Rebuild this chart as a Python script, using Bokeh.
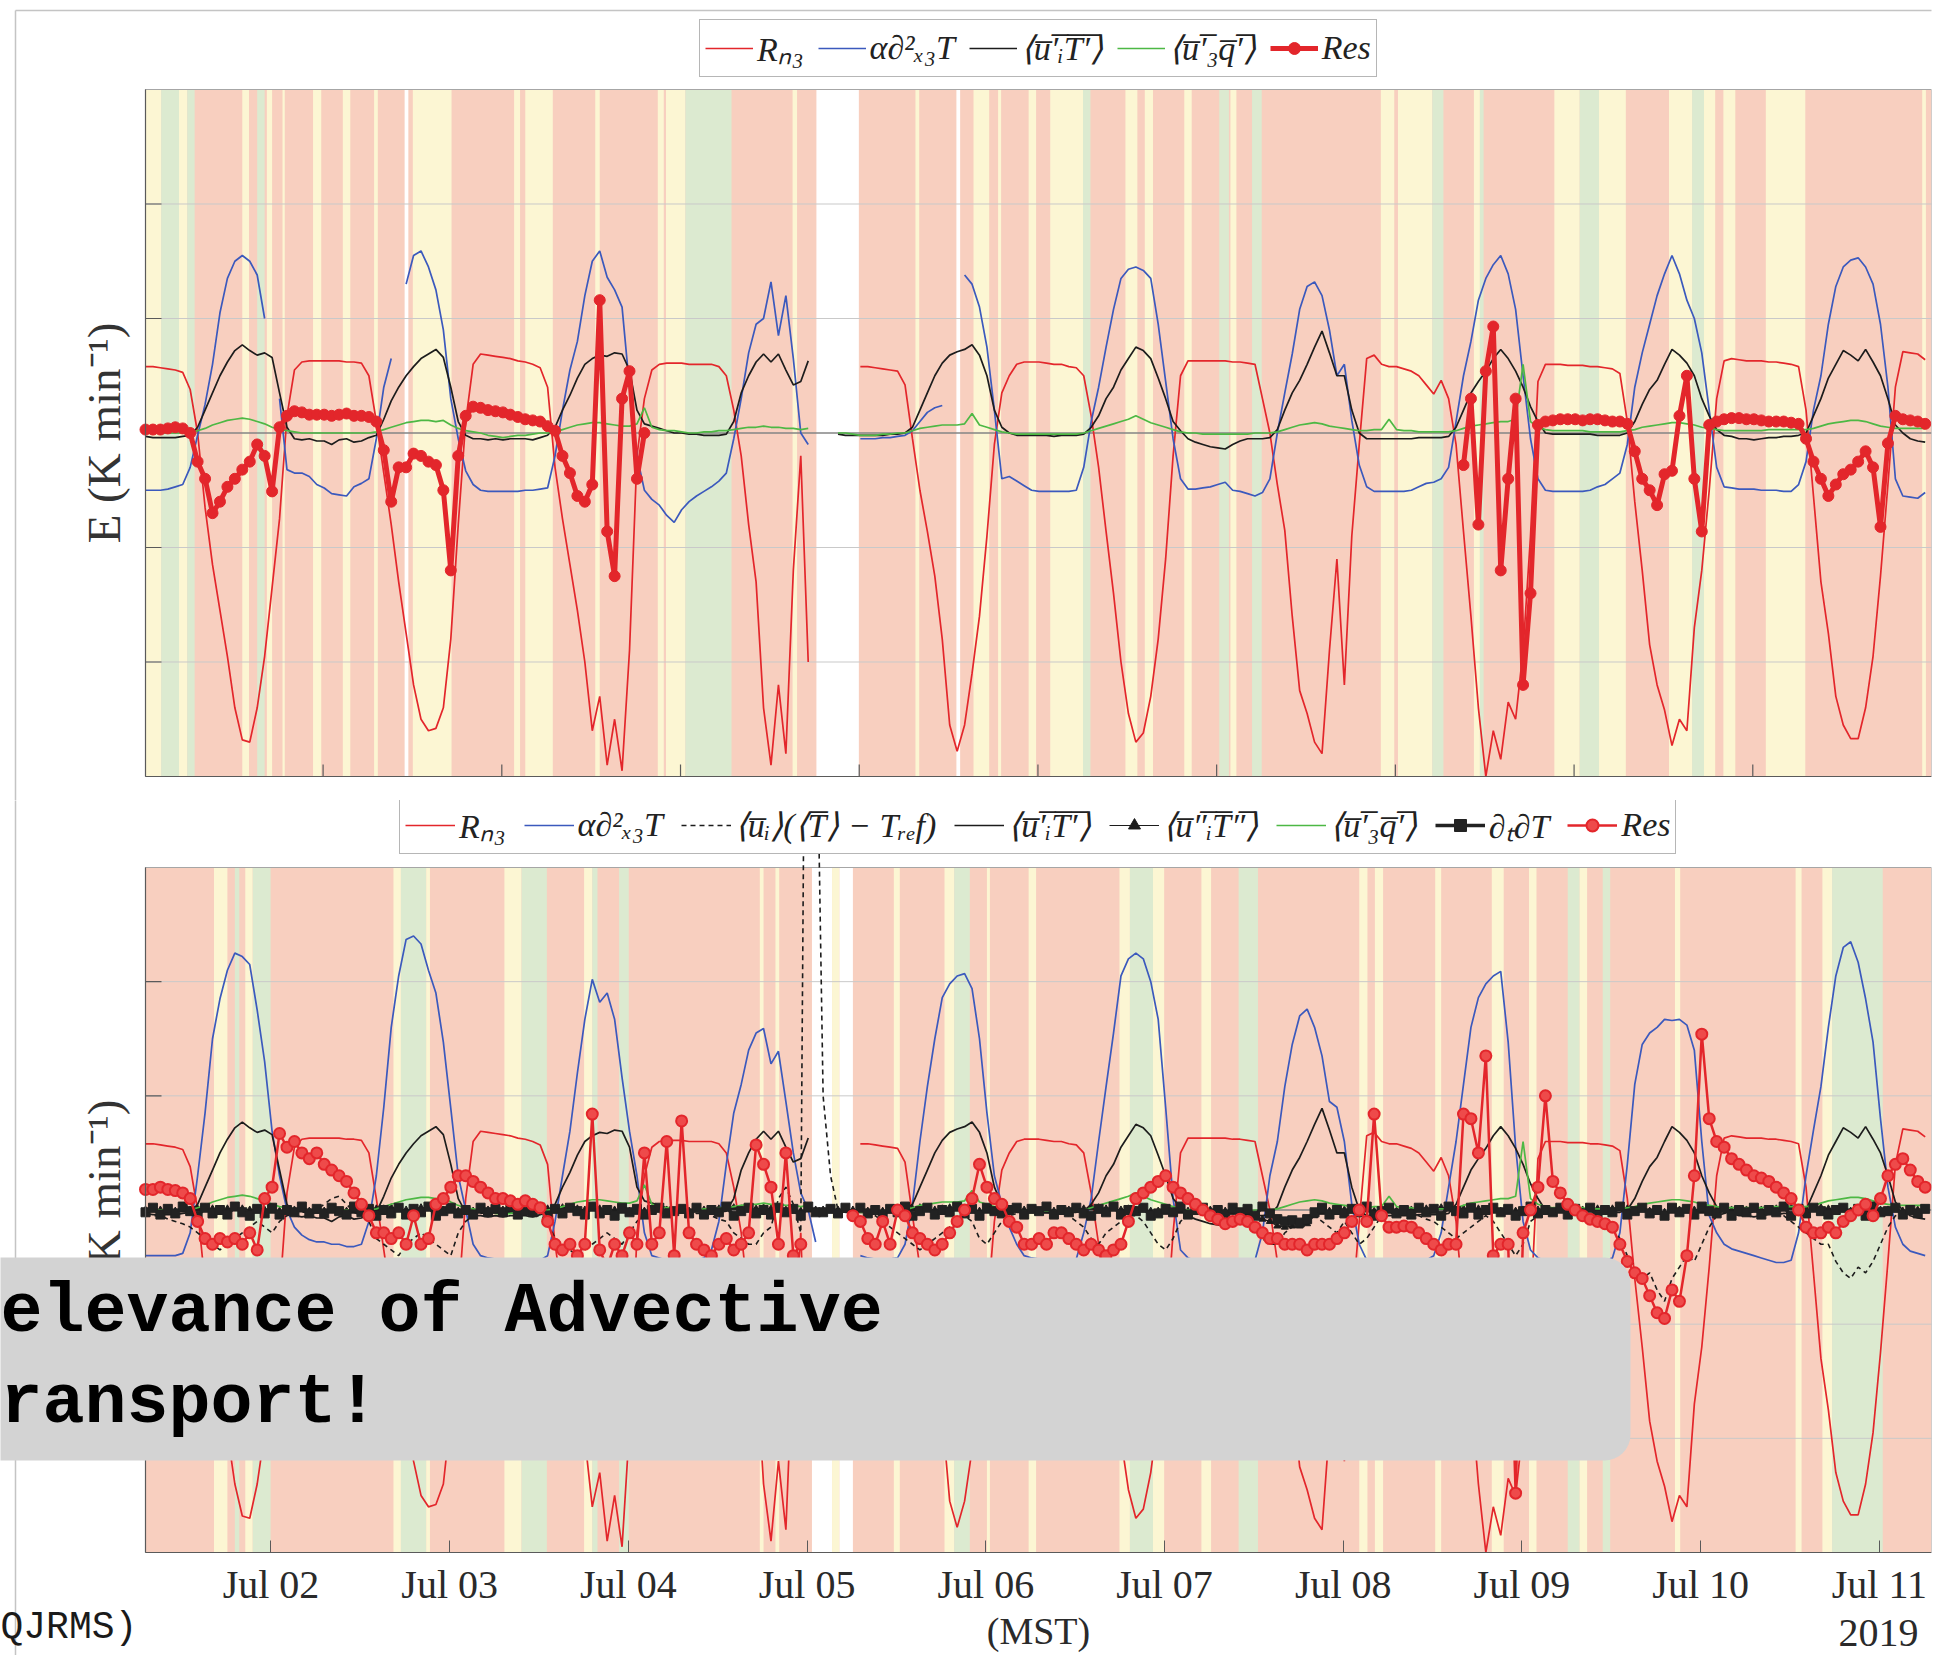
import numpy as np
from datetime import datetime, timedelta
from bokeh.plotting import figure
from bokeh.models import (Range1d, FixedTicker, DatetimeTickFormatter, Legend, LegendItem,
                          BoxAnnotation, Label)
from bokeh.layouts import column
from bokeh.embed import file_html
from bokeh.resources import INLINE


def series(*days):
    return np.array([float(v) for v in " ".join(days).split()])

# ---------------- data: hourly samples from 2019-07-01 07:09 (MST) ----------------
RN3 = series(
    ".58 .58 .57 .56 .55 .53 .38 .0 -.65 -1.15 -1.55 -1.95 -2.4 -2.68 -2.7 -2.4 -1.95 -1.35 -.75 .15 .55 .62 .63 .63",
    ".63 .63 .63 .62 .62 .61 .5 .1 -.35 -.8 -1.3 -1.75 -2.2 -2.5 -2.6 -2.58 -2.4 -1.8 -.8 .1 .6 .69 .68 .67",
    ".66 .65 .63 .62 .6 .57 .4 -.3 -.75 -1.15 -1.55 -2.0 -2.6 -2.3 -2.9 -2.5 -2.95 -1.9 -.2 .3 .55 .6 .61 .61",
    ".61 .6 .6 .6 .6 .58 .5 .2 -.2 -.8 -1.3 -2.4 -2.9 -2.2 -2.8 -1.2 -.2 -2.0 nan nan nan nan nan nan",
    ".58 .58 .57 .56 .55 .54 .42 -.05 -.5 -.86 -1.25 -1.8 -2.55 -2.78 -2.55 -2.1 -1.6 -.9 -.1 .35 .5 .6 .62 .62",
    ".62 .61 .6 .6 .58 .57 .5 .15 -.3 -.86 -1.4 -2.0 -2.45 -2.7 -2.62 -2.3 -1.8 -1.1 -.2 .5 .63 .63 .63 .63",
    ".63 .63 .62 .62 .61 .6 .3 .0 -.45 -.85 -1.6 -2.25 -2.45 -2.7 -2.8 -1.9 -1.1 -2.2 -.9 -.1 .65 .68 .6 .58",
    ".58 .56 .54 .5 .42 .34 .46 .3 -.1 -.86 -1.6 -2.4 -3.0 -2.6 -2.85 -2.35 -2.5 -1.9 -.9 .45 .6 .6 .6 .59",
    ".59 .59 .58 .58 .57 .56 .52 .1 -.6 -1.2 -1.85 -2.2 -2.42 -2.73 -2.5 -2.6 -1.7 -1.2 -.5 .3 .63 .65 .64 .63",
    ".63 .63 .62 .62 .61 .6 .58 .2 -.55 -1.3 -1.75 -2.3 -2.55 -2.67 -2.67 -2.4 -1.95 -1.25 -.45 .4 .71 .7 .69 .64")

UT = series(
    "-.03 -.04 -.04 -.04 -.04 -.03 -.02 .05 .2 .35 .5 .62 .72 .77 .72 .68 .7 .66 .35 .05 -.05 -.06 -.05 -.07",
    "-.07 -.1 -.06 -.05 -.08 -.07 -.04 -.02 .12 .28 .4 .5 .58 .65 .69 .73 .66 .4 .1 -.02 -.05 -.05 -.06 -.05",
    "-.06 -.05 -.05 -.05 -.06 -.04 -.02 .05 .2 .33 .48 .6 .65 .68 .67 .7 .69 .55 .2 .08 .06 .04 .02 .0",
    ".0 -.01 -.01 -.02 -.02 -.02 -.01 .1 .35 .5 .62 .69 .62 .69 .55 .42 .45 .63 nan nan nan -.01 -.02 -.02",
    "-.02 -.02 -.02 -.02 -.01 -.01 .0 .05 .2 .35 .5 .61 .68 .71 .73 .77 .68 .5 .2 .05 .0 -.02 -.02 -.02",
    "-.02 -.02 -.03 -.02 -.02 -.02 -.01 .05 .15 .3 .4 .55 .65 .75 .72 .65 .48 .3 .1 .02 -.05 -.08 -.1 -.12",
    "-.13 -.14 -.1 -.07 -.05 -.05 -.05 -.04 .03 .2 .35 .46 .6 .75 .89 .7 .5 .5 .2 .0 -.05 -.05 -.05 -.05",
    "-.05 -.05 -.05 -.04 -.04 -.04 -.04 -.03 .05 .2 .35 .45 .54 .65 .73 .65 .54 .4 .23 .1 .0 -.01 -.01 -.01",
    "-.01 -.01 -.01 -.02 -.02 -.02 -.02 .0 .1 .25 .38 .46 .6 .73 .68 .61 .5 .3 .15 .03 -.02 -.03 -.05 -.05",
    "-.06 -.05 -.04 -.04 -.03 -.03 -.02 .0 .15 .3 .48 .6 .72 .68 .63 .73 .62 .5 .3 .07 .0 -.05 -.07 -.08")

UQ = series(
    ".0 .0 .0 .0 .0 .0 .0 .02 .04 .07 .09 .11 .12 .13 .12 .1 .08 .05 .03 .02 .01 .0 .0 .0",
    ".0 .0 .0 .0 .0 .0 .0 .01 .03 .05 .07 .09 .1 .11 .11 .1 .11 .07 .04 .02 .01 .0 -.02 -.03",
    "-.04 -.03 -.02 -.02 -.01 .0 .0 .01 .03 .05 .07 .08 .09 .09 .08 .07 .06 .06 .08 .22 .05 .03 .02 .02",
    ".01 .0 .0 .01 .01 .02 .02 .03 .04 .05 .05 .06 .05 .05 .04 .04 .03 .04 nan nan nan .0 .0 -.01",
    "-.02 -.02 -.02 -.01 -.01 .0 .0 .02 .04 .05 .06 .07 .07 .07 .08 .17 .07 .05 .03 .01 .0 -.01 -.01 -.01",
    "-.01 -.01 -.01 -.01 -.01 -.01 .0 .02 .04 .06 .08 .1 .12 .15 .12 .09 .07 .05 .03 .01 .0 .0 -.01 -.01",
    "-.01 -.01 -.01 -.01 -.01 .0 .0 .0 .01 .03 .05 .07 .08 .09 .08 .06 .05 .04 .03 .02 .02 .03 .03 .12",
    ".03 .02 .02 .01 .01 .01 .01 .01 .02 .04 .06 .07 .08 .09 .1 .1 .12 .6 .1 .05 .03 .02 .02 .02",
    ".02 .02 .01 .01 .01 .01 .01 .02 .03 .05 .06 .07 .08 .09 .09 .08 .07 .05 .04 .03 .02 .02 .02 .02",
    ".02 .02 .03 .03 .03 .03 .03 .03 .04 .06 .08 .09 .1 .11 .11 .1 .08 .06 .05 .04 .04 .04 .04 .04")

DIFF_TOP = series(
    "-.5 -.5 -.5 -.49 -.47 -.45 -.3 -.02 .25 .6 1.05 1.35 1.5 1.55 1.5 1.38 1.0 nan .3 -.32 -.35 -.35 -.38 -.45",
    "-.48 -.53 -.54 -.55 -.47 -.44 -.4 -.05 .4 .65 nan 1.3 1.55 1.59 1.45 1.25 .9 .3 -.05 -.33 -.45 -.5 -.51 -.51",
    "-.51 -.51 -.51 -.5 -.5 -.49 -.48 -.2 .2 .55 .8 1.2 1.5 1.59 1.36 1.25 1.1 .4 -.2 -.5 -.58 -.63 -.72 -.78",
    "-.67 -.6 -.55 -.51 -.47 -.42 -.35 -.05 .3 .7 .95 1.0 1.32 .85 1.2 .65 .0 -.1 nan nan nan nan nan nan",
    "-.05 -.05 -.05 -.04 -.04 -.03 -.02 .02 .1 .18 .22 .24 nan nan 1.38 1.3 1.1 .75 .2 -.4 -.38 -.42 -.46 -.5",
    "-.51 -.51 -.51 -.51 -.51 -.5 -.3 .1 .4 .75 1.08 1.35 1.43 1.45 1.42 1.35 .95 .45 -.05 -.4 -.49 -.49 -.48 -.47",
    "-.45 -.43 -.5 -.51 -.53 -.55 -.52 -.4 .0 .35 .69 1.08 1.28 1.32 1.2 .9 .5 .6 .11 -.28 -.47 -.51 -.51 -.51",
    "-.51 -.51 -.5 -.47 -.44 -.43 -.4 -.3 .1 .5 .8 1.16 1.35 1.47 1.55 1.39 1.08 .5 -.05 -.4 -.5 -.51 -.51 -.51",
    "-.51 -.51 -.5 -.47 -.45 -.4 -.35 -.1 .4 .7 .95 1.2 1.39 1.55 1.39 1.16 1.0 .7 .2 -.3 -.47 -.48 -.49 -.49",
    "-.49 -.5 -.5 -.5 -.51 -.51 -.45 -.25 .2 .5 .95 1.28 1.45 1.51 1.53 1.45 1.3 .95 .4 -.4 -.55 -.56 -.57 -.52")

RES_TOP = series(
    ".03 .03 .03 .04 .05 .04 .0 -.25 -.4 -.7 -.6 -.47 -.4 -.32 -.25 -.1 -.2 -.51 .05 .15 .19 .18 .16 .16",
    ".16 .15 .16 .17 .15 .15 .14 .1 -.15 -.6 -.3 -.3 -.18 -.2 -.25 -.28 -.5 -1.2 -.2 .15 .23 .22 .2 .19",
    ".18 .16 .14 .12 .11 .1 .06 .02 -.2 -.35 -.55 -.6 -.45 1.16 -.86 -1.25 .3 .54 -.4 .0 nan nan nan nan",
    "nan nan nan nan nan nan nan nan nan nan nan nan nan nan nan nan nan nan nan nan nan nan nan nan",
    "nan nan nan nan nan nan nan nan nan nan nan nan nan nan nan nan nan nan nan nan nan nan nan nan",
    "nan nan nan nan nan nan nan nan nan nan nan nan nan nan nan nan nan nan nan nan nan nan nan nan",
    "nan nan nan nan nan nan nan nan nan nan nan nan nan nan nan nan nan nan nan nan nan nan nan nan",
    "nan nan nan nan nan nan nan nan nan -.28 .3 -.8 .54 .93 -1.2 -.4 .3 -2.2 -1.4 .07 .1 .11 .12 .12",
    ".12 .11 .12 .12 .11 .1 .1 .08 -.16 -.4 -.5 -.63 -.36 -.33 .15 .5 -.4 -.86 .07 .1 .12 .13 .13 .12",
    ".12 .11 .1 .1 .1 .09 .08 -.05 -.25 -.4 -.55 -.45 -.36 -.32 -.25 -.16 -.3 -.82 -.09 .15 .12 .11 .1 .08")

DIFF_BOT = series(
    "-.4 -.4 -.4 -.4 -.4 -.38 -.2 .3 .85 1.5 1.85 2.1 2.25 2.22 2.15 1.75 1.3 .69 .3 .0 -.15 -.22 -.26 -.28",
    "-.28 -.3 -.3 -.32 -.32 -.3 -.1 .3 .9 1.6 2.05 2.37 2.4 2.33 2.1 1.9 1.47 .89 .3 .0 -.3 -.4 -.42 -.43",
    "-.43 -.43 -.44 -.44 -.44 -.44 -.4 -.1 .3 .69 1.2 1.67 2.02 1.82 1.9 1.67 1.16 .69 .3 -.2 -.4 -.42 -.44 -.44",
    "-.44 -.44 -.44 -.42 -.35 -.1 .4 .85 1.1 1.4 1.55 1.59 1.28 1.39 .95 .5 .15 .0 -.28 nan nan nan nan nan",
    "-.4 -.42 -.43 -.43 -.43 -.42 -.3 .05 .6 1.08 1.5 1.86 1.98 2.05 2.07 1.94 1.5 .85 .3 .05 -.15 -.3 -.4 -.42",
    "-.43 -.44 -.44 -.44 -.44 -.43 -.2 .1 .6 1.08 1.55 2.05 2.2 2.25 2.2 2.0 1.67 .9 .1 -.35 -.42 -.44 -.45 -.45",
    "-.45 -.45 -.45 -.45 -.45 -.44 -.2 .3 .6 1.08 1.45 1.7 1.76 1.6 1.35 .95 .9 .6 .05 -.3 -.44 -.45 -.45 -.45",
    "-.45 -.45 -.45 -.45 -.44 -.4 -.2 .2 .6 1.1 1.6 1.86 1.98 2.05 2.09 1.47 .55 -.1 -.35 -.42 -.44 -.45 -.45 -.45",
    "-.45 -.45 -.45 -.45 -.44 -.42 -.2 .4 1.1 1.45 1.55 1.6 1.67 1.66 1.67 1.62 1.4 .6 -.05 -.2 -.3 -.34 -.36 -.38",
    "-.4 -.42 -.44 -.46 -.46 -.44 -.2 .3 .7 1.08 1.6 2.05 2.3 2.35 2.17 1.85 1.47 .8 .2 -.15 -.3 -.36 -.38 -.4")

RES_BOT = series(
    ".18 .18 .2 .18 .17 .15 .1 -.1 -.25 -.3 -.25 -.28 -.25 -.3 -.2 -.35 .1 .2 .67 .55 .6 .5 .45 .5",
    ".4 .35 .3 .25 .15 .05 -.05 -.2 -.2 -.25 -.2 -.3 -.05 -.3 -.25 .05 .1 .2 .3 .3 .25 .2 .15 .1",
    ".1 .08 .05 .08 .05 .02 -.1 -.3 -.35 -.3 -.4 -.3 .84 -.35 -.5 -.3 -.4 -.2 -.3 .5 -.3 -.2 .6 -.4",
    ".78 -.2 -.3 -.35 -.4 -.3 -.25 -.35 -.3 -.2 .57 .4 .2 -.3 .5 -.4 -.3 nan nan nan nan nan nan -.05",
    "-.1 -.25 -.3 -.1 -.3 .0 -.05 -.2 -.25 -.3 -.35 -.3 -.2 -.1 .0 .1 .4 .2 .1 .05 -.1 -.15 -.3 -.3",
    "-.25 -.3 -.2 -.2 -.25 -.3 -.35 -.3 -.35 -.4 -.35 -.3 -.1 .1 .15 .2 .25 .3 .2 .15 .1 .05 .0 -.05",
    "-.08 -.12 -.1 -.08 -.1 -.15 -.2 -.25 -.25 -.3 -.3 -.3 -.35 -.3 -.3 -.3 -.25 -.2 -.1 .0 -.1 .84 -.05 -.15",
    "-.15 -.14 -.15 -.2 -.25 -.3 -.35 -.3 -.3 .84 .8 .5 1.35 -.4 -.3 -.3 -2.48 -.2 .0 .2 1.0 .25 .15 .05",
    ".0 -.05 -.08 -.1 -.12 -.15 -.3 -.45 -.55 -.6 -.75 -.9 -.95 -.7 -.8 -.4 .3 1.54 .8 .6 .55 .45 .4 .35",
    ".3 .28 .25 .2 .15 .1 .0 -.15 -.2 -.2 -.15 -.2 -.1 -.05 .0 .05 -.05 .1 .3 .4 .45 .35 .25 .2")

ADV_BOT = series(
    "-.05 -.05 -.05 -.08 -.1 -.12 -.15 -.2 -.25 -.3 -.35 -.3 -.25 -.2 -.15 -.1 -.15 -.2 -.1 -.05 -.03 -.02 -.02 .0",
    ".05 .1 .12 .05 -.02 -.05 -.1 -.25 -.3 -.35 -.4 -.3 -.25 -.2 -.25 -.3 -.35 -.4 -.2 -.1 -.05 -.03 -.02 -.02",
    "-.02 -.02 -.03 -.03 -.05 -.05 -.1 -.25 -.3 -.35 -.4 -.35 -.3 -.25 -.2 -.25 -.3 -.2 -.1 -.05 -.03 -.03 -.02 -.02",
    "-.02 -.02 -.03 -.03 -.05 -.08 -.1 -.2 -.25 -.3 -.3 -.2 -.15 .1 .2 .05 -.2 9.0 5.0 1.0 .3 .0 -.02 -.02",
    ".0 -.02 -.05 -.1 -.15 -.2 -.25 -.3 -.35 -.3 -.25 -.2 -.15 -.1 -.05 -.1 -.25 -.3 -.2 -.1 -.05 -.03 -.02 -.02",
    "-.02 -.02 -.03 -.03 -.05 -.1 -.15 -.25 -.3 -.2 -.15 -.1 -.05 -.05 -.1 -.2 -.3 -.35 -.25 -.1 -.05 -.03 -.02 -.02",
    "-.02 -.02 -.03 -.05 -.1 -.15 -.25 -.3 -.3 -.2 -.15 -.1 -.05 -.05 -.1 -.15 -.2 -.1 -.2 -.3 -.25 -.15 -.05 -.03",
    "-.03 -.03 -.05 -.05 -.08 -.1 -.15 -.2 -.25 -.2 -.15 -.1 -.05 -.1 -.2 -.3 -.4 -.3 -.1 -.05 -.03 -.02 -.02 -.02",
    "-.02 -.02 -.03 -.05 -.1 -.15 -.25 -.4 -.5 -.6 -.55 -.7 -.8 -.6 -.5 -.4 -.45 -.3 -.15 -.05 -.03 -.02 -.02 -.02",
    "-.02 -.02 -.03 -.03 -.05 -.1 -.15 -.2 -.25 -.3 -.3 -.45 -.55 -.6 -.5 -.55 -.45 -.3 -.15 -.05 -.03 -.02 -.02 -.02")

UTT_BOT = series(
    ".0 .0 .0 -.01 -.01 .0 .0 .01 .02 .01 .0 .01 .02 .01 .0 .01 .0 -.01 -.01 .0 .0 .0 -.01 -.01",
    "-.01 -.01 -.02 -.01 -.01 .0 .0 .01 .01 .02 .01 .0 .01 .02 .01 .0 .0 -.01 -.01 -.02 -.01 -.01 .0 .0",
    ".0 -.01 -.01 -.01 .0 .0 .01 .01 .02 .02 .01 .0 .01 .01 .0 .0 -.01 -.01 -.02 -.01 .0 .0 .0 -.01",
    "-.01 -.01 .0 .0 .0 .01 .01 .02 .01 .0 .01 .02 .01 .0 .0 -.01 -.01 .0 .0 .0 .0 .0 .0 .0",
    ".0 -.01 -.01 -.01 .0 .0 .01 .01 .02 .01 .0 .01 .02 .01 .0 .0 -.01 -.01 -.02 -.01 -.01 .0 .0 .0",
    "-.01 -.01 -.01 .0 .0 .0 .01 .02 .02 .01 .01 .0 .01 .0 .0 -.01 -.01 -.02 -.02 -.01 -.01 -.01 .0 .0",
    ".0 -.01 -.02 -.02 -.03 -.05 -.08 -.1 -.14 -.15 -.14 -.14 -.12 -.05 -.02 -.01 .0 .0 .01 .0 .0 -.01 -.01 -.01",
    "-.01 .0 .0 .0 .01 .01 .02 .01 .0 .01 .02 .01 .0 -.01 -.01 -.02 -.01 .0 .0 .0 -.01 -.01 -.01 .0",
    ".0 .0 .01 .01 .0 .01 .02 .01 .0 .0 -.01 -.01 -.02 -.01 .0 .0 .0 -.01 -.01 .0 .0 .0 .0 .0",
    ".0 .0 .0 .01 .01 .02 .01 .0 .01 .02 .01 .0 .0 -.01 -.01 -.02 -.01 .0 .0 .0 -.01 -.01 .0 .0")

DTDT_BOT = series(
    "-.02 .02 -.04 .01 -.03 .03 -.01 -.05 .02 -.03 .0 -.04 .03 -.02 -.05 .01 -.03 .02 -.04 .0 -.02 .03 -.03 .01",
    "-.03 .02 -.01 -.04 .03 -.02 .01 -.05 .0 -.03 .02 -.04 .01 -.02 .03 -.05 -.01 .02 -.03 .0 -.04 .02 -.02 .01",
    "-.02 .03 -.04 .0 -.02 .02 -.05 .01 -.03 .02 -.01 -.04 .03 -.03 .0 -.05 .02 -.02 .01 -.04 .0 .02 -.03 -.01",
    ".01 -.03 .02 -.04 .0 -.02 .03 -.05 -.01 .02 -.03 .0 -.04 .02 -.02 .01 -.05 .03 -.02 -.02 .01 -.03 .02 -.04",
    ".02 -.03 .0 -.04 .01 -.02 .03 -.05 -.01 .02 -.04 .0 -.02 .03 -.03 .01 -.05 .02 -.01 -.03 .0 .02 -.04 .01",
    "-.01 .03 -.04 .0 -.02 .02 -.03 -.05 .01 -.02 .03 -.04 .0 -.01 .02 -.05 -.03 .01 -.02 .03 -.04 .0 .02 -.03",
    ".0 -.04 .02 -.02 .01 -.05 .03 -.03 -.08 -.1 -.09 -.11 -.08 -.02 .02 -.04 .0 -.03 .01 -.02 .03 -.05 -.01 .02",
    "-.03 .0 -.04 .02 -.02 .01 -.05 .03 -.01 -.03 .02 -.04 .0 .02 -.02 .01 -.05 -.01 .03 -.03 .0 -.02 .02 -.04",
    ".01 -.03 .02 -.05 .0 -.02 .03 -.04 -.01 .02 -.03 .0 -.05 .02 -.02 .01 -.04 .03 -.01 -.03 .02 -.05 .0 -.02",
    ".02 -.04 .0 -.02 .03 -.05 .01 -.03 .02 -.01 -.04 .0 .02 -.03 .01 -.05 .03 -.02 -.01 .02 -.04 .0 -.03 .01")

# stability-class shading (hours from start): Y = yellow, G = green, W = no data; rest salmon
TOP_BG_START = [0, 2.1, 4.5, 5.6, 13.0, 15.0, 16.3, 18.4, 22.5, 26.5, 30.7, 34.8, 35.9, 49.5, 51.0, 60.4,
                68.8, 69.9, 72.5, 86.9, 90.1, 103.4, 108.9, 111.2, 114.5, 118.6, 121.5, 125.9, 131.6, 134.2,
                139.5, 144.2, 145.7, 148.6, 165.9, 168.2, 172.8, 178.4, 179.2, 189.2, 192.6, 195.2, 204.6,
                207.7, 209.3, 211.9, 217.6, 238.6]
TOP_BG_END = [2.1, 4.5, 5.6, 6.6, 13.9, 16.0, 17.0, 18.7, 23.6, 27.5, 31.2, 35.3, 41.1, 50.3, 54.7, 61.0,
              69.6, 72.5, 78.7, 87.5, 95.8, 103.9, 109.4, 113.3, 114.9, 119.6, 125.9, 126.9, 133.2, 135.3,
              140.5, 145.5, 146.5, 149.9, 167.7, 172.8, 174.3, 179.2, 179.7, 192.6, 195.2, 198.8, 207.7,
              209.3, 210.8, 213.5, 222.9, 239.1]
TOP_BG_KIND = list("YGYGYGYYYYYWYYYYYYGYWYWYYYYGYYYGYGYYGYGYGYYGYYYY")

BOT_BG_START = [9.2, 12.0, 13.4, 14.4, 33.3, 34.3, 37.7, 48.2, 50.5, 58.9, 60.0, 63.6, 82.5, 84.6, 89.5,
                92.2, 93.2, 100.5, 107.3, 108.6, 113.0, 118.6, 130.8, 132.2, 135.3, 141.8, 146.8, 163.0,
                165.1, 173.2, 180.8, 185.8, 191.0, 192.6, 195.7, 205.4, 221.6, 225.2, 226.5]
BOT_BG_END = [11.0, 12.6, 14.4, 16.8, 34.3, 37.7, 38.2, 50.5, 53.9, 60.0, 60.7, 64.9, 83.0, 85.1, 92.2,
              93.2, 95.0, 101.3, 108.6, 110.7, 113.4, 119.6, 132.2, 135.3, 136.8, 143.1, 149.4, 164.1,
              166.2, 174.0, 182.4, 186.8, 192.6, 193.6, 196.7, 206.1, 222.4, 226.5, 233.3]
BOT_BG_KIND = list("YGYGYGYYGYGGYYWYWYYGYYYGYYGYYYYYGYGYYYG")

Y_TICKS = [-3, -2, -1, 0, 1, 2, 3]
TOP_LABELS = ["Rₙ₃", "α∂²ₓ₃T", "⟨u̅′̅ᵢT̅′̅⟩", "⟨u̅′̅₃q̅′̅⟩", "Res"]
BOT_LABELS = ["Rₙ₃", "α∂²ₓ₃T", "⟨u̅ᵢ⟩(⟨T̅⟩ − Tᵣₑf)", "⟨u̅′̅ᵢT̅′̅⟩", "⟨u̅″̅ᵢT̅″̅⟩",
              "⟨u̅′̅₃q̅′̅⟩", "∂ₜ∂T", "Res"]
Y_LABEL = "E (K min⁻¹)"
X_LABEL = "(MST)"
YEAR = "2019"
OVERLAY_LINES = ["elevance of Advective", "ransport!"]
FOOTNOTE = "QJRMS)"

# ---------------- geometry / styling ----------------
BASE = datetime(2019, 7, 1, 7, 9)
X_END = datetime(2019, 7, 11, 7, 0)
EPOCH = datetime(1970, 1, 1)
PLOT_W = 1786.0            # px between BASE and X_END
LEFT_PAD = 145.0           # px of page left of BASE
X_START = BASE - (X_END - BASE) * (LEFT_PAD / PLOT_W)
PX_H = PLOT_W / ((X_END - BASE).total_seconds() / 3600.0)   # px per hour

SALMON = "#f8cfbf"
BG_COLORS = {"Y": "#fcf6d3", "G": "#dcead0", "W": "#ffffff"}
RED = "#e3262b"
BLUE = "#3b59bd"
BLACK = "#1c1c1c"
GREEN = "#4db844"
SERIF = "Liberation Serif"
AXIS_C = "#5a5a5a"


def ms(d):
    return (d - EPOCH).total_seconds() * 1000.0


def tt(arr):
    return [BASE + timedelta(hours=i) for i in range(len(arr))]


def hrs(hs):
    return [BASE + timedelta(hours=float(h)) for h in hs]


def px_to_time(px):
    return X_START + timedelta(hours=px / PX_H)


def make_fig(height, top_px, bottom_px):
    """frame fills the canvas; the panel itself spans BASE..X_END x -3..3"""
    unit = (height - top_px - bottom_px) / 6.0
    y0 = -3 - bottom_px / unit
    y1 = 3 + top_px / unit
    p = figure(width=1947, height=height, x_axis_type="datetime",
               x_range=Range1d(X_START, X_END), y_range=Range1d(y0, y1),
               output_backend="svg", toolbar_location=None,
               min_border_left=0, min_border_right=16, min_border_top=0, min_border_bottom=0,
               background_fill_color="white", border_fill_color="white",
               outline_line_color=None)
    p.xgrid.visible = False
    p.ygrid.visible = False
    p.yaxis.fixed_location = ms(BASE)
    p.yaxis.bounds = (-3, 3)
    p.yaxis.ticker = FixedTicker(ticks=[])
    p.yaxis.minor_tick_line_color = None
    p.yaxis.axis_line_color = AXIS_C
    p.yaxis.axis_line_width = 1.2
    p.yaxis.axis_label = Y_LABEL
    p.yaxis.axis_label_text_font = SERIF
    p.yaxis.axis_label_text_font_style = "normal"
    p.yaxis.axis_label_text_font_size = "47px"
    p.yaxis.axis_label_text_color = "#333333"
    p.yaxis.axis_label_standoff = 16
    p.xaxis.fixed_location = -3
    p.xaxis.bounds = (ms(BASE), ms(X_END))
    p.xaxis.minor_tick_line_color = None
    p.xaxis.axis_line_color = AXIS_C
    p.xaxis.axis_line_width = 1.2
    p.xaxis.major_tick_line_color = AXIS_C
    p.xaxis.major_tick_in = 12
    p.xaxis.major_tick_out = 0
    return p, unit


def add_background(p, starts, ends, kinds, unit):
    p.quad(left=[BASE], right=[X_END], bottom=-3, top=3, fill_color=SALMON,
           line_color=None, level="image")
    p.quad(left=hrs(starts), right=hrs(ends), bottom=-3, top=3,
           fill_color=[BG_COLORS[k] for k in kinds], line_color=None, level="image")
    inner = [v for v in Y_TICKS if v not in (-3, 0, 3)]
    p.segment(x0=BASE, x1=X_END, y0=inner, y1=inner, line_color="#c9c9c9",
              line_width=1, level="underlay")
    p.segment(x0=BASE, x1=X_END, y0=0, y1=0, line_color="#858585",
              line_width=1.3, level="underlay")
    p.segment(x0=BASE, x1=BASE + timedelta(hours=16 / PX_H), y0=Y_TICKS, y1=Y_TICKS,
              line_color=AXIS_C, line_width=1.2, level="underlay")
    p.quad(left=[BASE], right=[X_END], bottom=-3, top=3, fill_alpha=0,
           line_color="#a6a6a6", line_width=1, level="underlay")


def add_legend(p, items, loc, glyph_w, spacing):
    lg = Legend(items=items, orientation="horizontal", location=loc,
                label_text_font=SERIF, label_text_font_style="italic",
                label_text_font_size="34px", label_text_color="#222222",
                glyph_width=glyph_w, glyph_height=30, label_height=30, label_standoff=4,
                spacing=spacing, padding=5, margin=0,
                border_line_color="#6e6e6e", border_line_width=1.5,
                background_fill_color="white", background_fill_alpha=1.0)
    p.add_layout(lg)


# ---------------- top panel ----------------
p1, u1 = make_fig(800, 89, 24)
p1.xaxis.ticker = FixedTicker(ticks=[])
add_background(p1, TOP_BG_START, TOP_BG_END, TOP_BG_KIND, u1)
top_ticks = [datetime(2019, 7, d, 7, 0) for d in range(2, 11)]
p1.segment(x0=top_ticks, x1=top_ticks, y0=-3, y1=-3 + 12 / u1, line_color=AXIS_C,
           line_width=1.2, level="underlay")

r1 = p1.line(tt(RN3), RN3, line_color=RED, line_width=1.7)
r2 = p1.line(tt(DIFF_TOP), DIFF_TOP, line_color=BLUE, line_width=1.7)
r3 = p1.line(tt(UT), UT, line_color=BLACK, line_width=1.7)
r4 = p1.line(tt(UQ), UQ, line_color=GREEN, line_width=1.7)
r5a = p1.line(tt(RES_TOP), RES_TOP, line_color=RED, line_width=5)
r5b = p1.scatter(tt(RES_TOP), RES_TOP, marker="circle", size=11, fill_color=RED, line_color=RED)
add_legend(p1, [LegendItem(label=TOP_LABELS[0], renderers=[r1]),
                LegendItem(label=TOP_LABELS[1], renderers=[r2]),
                LegendItem(label=TOP_LABELS[2], renderers=[r3]),
                LegendItem(label=TOP_LABELS[3], renderers=[r4]),
                LegendItem(label=TOP_LABELS[4], renderers=[r5a, r5b])], (699, 723), 48, 14)

y_top1 = 3 + (89 - 10) / u1
p1.segment(x0=[px_to_time(15), px_to_time(15)], x1=[px_to_time(15), px_to_time(1947)],
           y0=[-3 - 24 / u1 - 1, y_top1], y1=[y_top1, y_top1],
           line_color="#c4c4c4", line_width=1.5, level="underlay")

# ---------------- bottom panel ----------------
p2, u2 = make_fig(855, 67, 103)
p2.xaxis.ticker = FixedTicker(ticks=[ms(datetime(2019, 7, d)) for d in range(2, 12)])
p2.xaxis.formatter = DatetimeTickFormatter(days="%b %d", months="%b %d", hours="%b %d")
p2.xaxis.major_label_text_font = SERIF
p2.xaxis.major_label_text_font_size = "40px"
p2.xaxis.major_label_text_color = "#2a2a2a"
p2.xaxis.major_label_standoff = 9
p2.xaxis.axis_label = X_LABEL
p2.xaxis.axis_label_text_font = SERIF
p2.xaxis.axis_label_text_font_style = "normal"
p2.xaxis.axis_label_text_font_size = "38px"
p2.xaxis.axis_label_text_color = "#2a2a2a"
p2.xaxis.axis_label_standoff = 0
add_background(p2, BOT_BG_START, BOT_BG_END, BOT_BG_KIND, u2)
p2.segment(x0=[px_to_time(15)], x1=[px_to_time(15)], y0=[-3 - 103 / u2 - 1], y1=[3 + 67 / u2 + 1],
           line_color="#c4c4c4", line_width=1.5, level="underlay")

q1 = p2.line(tt(RN3), RN3, line_color=RED, line_width=1.7)
q2 = p2.line(tt(DIFF_BOT), DIFF_BOT, line_color=BLUE, line_width=1.7)
q3 = p2.line(tt(ADV_BOT), ADV_BOT, line_color=BLACK, line_width=1.6, line_dash="5 4")
q4 = p2.line(tt(UT), UT, line_color=BLACK, line_width=1.7)
q5a = p2.line(tt(UTT_BOT), UTT_BOT, line_color=BLACK, line_width=1.2)
q5b = p2.scatter(tt(UTT_BOT), UTT_BOT, marker="triangle", size=7, fill_color=BLACK, line_color=BLACK)
q6 = p2.line(tt(UQ), UQ, line_color=GREEN, line_width=1.7)
q7a = p2.line(tt(DTDT_BOT), DTDT_BOT, line_color="#222222", line_width=3.5)
q7b = p2.scatter(tt(DTDT_BOT), DTDT_BOT, marker="square", size=9, fill_color="#222222", line_color="#222222")
q8a = p2.line(tt(RES_BOT), RES_BOT, line_color=RED, line_width=2.5)
q8b = p2.scatter(tt(RES_BOT), RES_BOT, marker="circle", size=11, fill_color="#ee4a4a", line_color=RED, line_width=2)
add_legend(p2, [LegendItem(label=BOT_LABELS[0], renderers=[q1]),
                LegendItem(label=BOT_LABELS[1], renderers=[q2]),
                LegendItem(label=BOT_LABELS[2], renderers=[q3]),
                LegendItem(label=BOT_LABELS[3], renderers=[q4]),
                LegendItem(label=BOT_LABELS[4], renderers=[q5a, q5b]),
                LegendItem(label=BOT_LABELS[5], renderers=[q6]),
                LegendItem(label=BOT_LABELS[6], renderers=[q7a, q7b]),
                LegendItem(label=BOT_LABELS[7], renderers=[q8a, q8b])], (399, 801), 50, 18)

p2.add_layout(Label(x=1918, y=23, x_units="screen", y_units="screen", text=YEAR,
                    text_font=SERIF, text_font_size="40px", text_color="#2a2a2a",
                    text_align="right", text_baseline="middle"))
# overlay callout (screen px measured from the canvas bottom-left)
p2.add_layout(BoxAnnotation(left=-60, right=1630, top=398, bottom=195,
                            left_units="screen", right_units="screen",
                            top_units="screen", bottom_units="screen",
                            fill_color="#d3d3d3", fill_alpha=1.0, line_color=None,
                            border_radius=26, level="overlay"))
p2.add_layout(Label(x=0, y=343, x_units="screen", y_units="screen", text=OVERLAY_LINES[0],
                    text_font="Liberation Mono", text_font_style="bold", text_font_size="70px",
                    text_color="black", text_baseline="alphabetic", level="overlay"))
p2.add_layout(Label(x=0, y=252, x_units="screen", y_units="screen", text=OVERLAY_LINES[1],
                    text_font="Liberation Mono", text_font_style="bold", text_font_size="70px",
                    text_color="black", text_baseline="alphabetic", level="overlay"))
p2.add_layout(Label(x=0, y=28, x_units="screen", y_units="screen", text=FOOTNOTE,
                    text_font="Liberation Mono", text_font_size="38px",
                    text_color="#1a1a1a", text_baseline="middle", level="overlay"))

layout = column(p1, p2, spacing=0)
open("out.html", "w").write(file_html(layout, INLINE, title="Energy budget"))
